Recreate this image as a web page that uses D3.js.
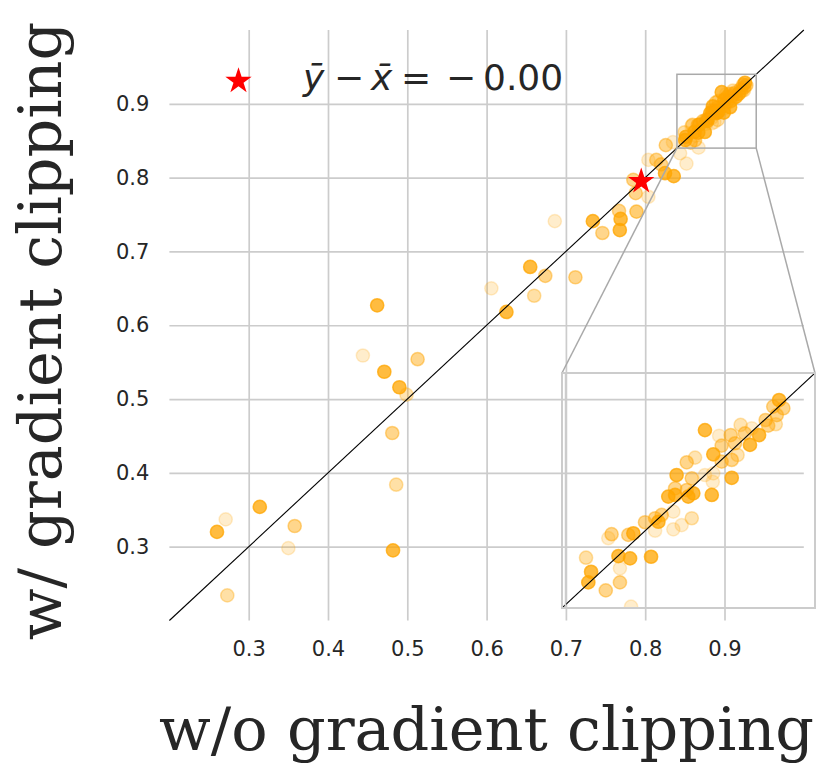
<!DOCTYPE html>
<html>
<head>
<meta charset="utf-8">
<script src="https://cdn.jsdelivr.net/npm/d3@7"></script>
<style>
  html, body { margin: 0; padding: 0; background: #fff; }
  svg { display: block; }
</style>
</head>
<body>
<svg id="chart" width="830" height="776"></svg>
<script>
// ---- data ----
// x: without gradient clipping, y: with gradient clipping, a: point opacity
const xValues = [
  0.444, 0.513, 0.471, 0.490, 0.499, 0.481, 0.486, 0.314, 0.271, 0.260,
  0.358, 0.350, 0.482, 0.273, 0.462, 0.625, 0.606, 0.660, 0.655, 0.674,
  0.712, 0.686, 0.734, 0.746, 0.767, 0.769, 0.768, 0.789, 0.788, 0.785,
  0.804, 0.804, 0.814, 0.820, 0.826, 0.835, 0.844, 0.852, 0.825, 0.836,
  0.9258, 0.9275, 0.9235, 0.9249, 0.9205, 0.9245, 0.9215, 0.9179, 0.9150, 0.9106,
  0.9123, 0.9143, 0.9067, 0.9084, 0.9094, 0.9071, 0.9021, 0.9031, 0.8965, 0.8998,
  0.9031, 0.8926, 0.8893, 0.9071, 0.8998, 0.8965, 0.8996, 0.8992, 0.8913, 0.8853,
  0.8847, 0.8820, 0.8847, 0.8893, 0.8919, 0.8899, 0.8840, 0.8913, 0.8873, 0.8840,
  0.8794, 0.8768, 0.8781, 0.8728, 0.8768, 0.8682, 0.8662, 0.8596, 0.8583, 0.8623,
  0.8669, 0.8752, 0.8495, 0.8515, 0.8504, 0.8629, 0.8629, 0.8573, 0.8673
];
const yValues = [
  0.559, 0.554, 0.537, 0.516, 0.506, 0.454, 0.384, 0.354, 0.337, 0.320,
  0.328, 0.298, 0.295, 0.234, 0.627, 0.618, 0.650, 0.640, 0.679, 0.667,
  0.665, 0.741, 0.741, 0.725, 0.755, 0.744, 0.729, 0.754, 0.779, 0.797,
  0.774, 0.824, 0.824, 0.818, 0.844, 0.848, 0.833, 0.819, 0.806, 0.802,
  0.9285, 0.9250, 0.9257, 0.9221, 0.9200, 0.9182, 0.9176, 0.9136, 0.9165, 0.9179,
  0.9143, 0.9094, 0.9136, 0.9101, 0.9051, 0.9030, 0.9133, 0.9091, 0.9157, 0.9054,
  0.9023, 0.9040, 0.9020, 0.8954, 0.8973, 0.8966, 0.8937, 0.8881, 0.8952, 0.8966,
  0.8909, 0.8874, 0.8881, 0.8902, 0.8888, 0.8874, 0.8810, 0.8782, 0.8753, 0.8735,
  0.8796, 0.8782, 0.8767, 0.8765, 0.8729, 0.8718, 0.8711, 0.8714, 0.8697, 0.8621,
  0.8611, 0.8618, 0.8614, 0.8554, 0.8509, 0.8569, 0.8509, 0.8475, 0.8406
];
const alphaValues = [
  0.2, 0.45, 0.75, 0.75, 0.3, 0.45, 0.35, 0.75, 0.2, 0.75,
  0.45, 0.2, 0.75, 0.35, 0.75, 0.75, 0.2, 0.35, 0.75, 0.45,
  0.45, 0.2, 0.75, 0.45, 0.45, 0.75, 0.75, 0.55, 0.45, 0.45,
  0.2, 0.2, 0.45, 0.45, 0.45, 0.2, 0.2, 0.2, 0.75, 0.75,
  0.75, 0.45, 0.45, 0.45, 0.45, 0.3, 0.45, 0.75, 0.2, 0.3,
  0.45, 0.75, 0.45, 0.45, 0.3, 0.45, 0.2, 0.45, 0.75, 0.75,
  0.45, 0.3, 0.45, 0.75, 0.2, 0.2, 0.2, 0.75, 0.45, 0.75,
  0.45, 0.75, 0.75, 0.45, 0.75, 0.75, 0.2, 0.3, 0.2, 0.2,
  0.45, 0.45, 0.75, 0.45, 0.2, 0.75, 0.45, 0.45, 0.2, 0.75,
  0.75, 0.75, 0.35, 0.75, 0.75, 0.2, 0.45, 0.45, 0.2
];
const meanPoint = [0.795, 0.795];           // (x̄, ȳ)
const meanDiffLabel = "\u22120.00";          // ȳ − x̄
const axisDomain = [0.2, 1.0];
const insetDomain = [0.84, 0.94];
const tickValues = [0.3, 0.4, 0.5, 0.6, 0.7, 0.8, 0.9];
const tickLabels = ["0.3", "0.4", "0.5", "0.6", "0.7", "0.8", "0.9"];
const xLabel = "w/o gradient clipping";
const yLabel = "w/ gradient clipping";

const points = xValues.map((x, i) => ({ x, y: yValues[i], a: alphaValues[i] }));

// ---- layout ----
const svg = d3.select("#chart");
const M = { left: 169.4, right: 803.8, top: 30, bottom: 620.5 };
const I = { left: 562, right: 815, top: 373, bottom: 608 };
const x = d3.scaleLinear().domain(axisDomain).range([M.left, M.right]);
const y = d3.scaleLinear().domain(axisDomain).range([M.bottom, M.top]);
const xi = d3.scaleLinear().domain(insetDomain).range([I.left, I.right]);
const yi = d3.scaleLinear().domain(insetDomain).range([I.bottom, I.top]);

const gridColor = "#cccccc";
const textColor = "#262626";
const ptColor = "#FFA500";
const R = 6.6;

// grid
const gx = svg.append("g")
  .attr("transform", `translate(0,${M.bottom})`)
  .call(d3.axisBottom(x).tickValues(tickValues).tickSize(-(M.bottom - M.top)).tickFormat(""));
gx.select(".domain").remove();
gx.selectAll(".tick line").attr("stroke", gridColor).attr("stroke-width", 1.7);
const gy = svg.append("g")
  .attr("transform", `translate(${M.left},0)`)
  .call(d3.axisLeft(y).tickValues(tickValues).tickSize(-(M.right - M.left)).tickFormat(""));
gy.select(".domain").remove();
gy.selectAll(".tick line").attr("stroke", gridColor).attr("stroke-width", 1.7);

// tick labels
const lx = svg.append("g")
  .attr("transform", `translate(0,${M.bottom})`)
  .call(d3.axisBottom(x).tickValues(tickValues).tickSize(0).tickPadding(21)
    .tickFormat((d, i) => tickLabels[i]));
lx.select(".domain").remove();
lx.selectAll("text").attr("font-family", "DejaVu Sans").attr("font-size", 21).attr("fill", textColor);
const ly = svg.append("g")
  .attr("transform", `translate(${M.left},0)`)
  .call(d3.axisLeft(y).tickValues(tickValues).tickSize(0).tickPadding(20)
    .tickFormat((d, i) => tickLabels[i]));
ly.select(".domain").remove();
ly.selectAll("text").attr("font-family", "DejaVu Sans").attr("font-size", 21).attr("fill", textColor);

// main scatter
function drawPoints(g, sx, sy) {
  g.selectAll("circle").data(points).join("circle")
    .attr("cx", d => sx(d.x)).attr("cy", d => sy(d.y)).attr("r", R)
    .attr("fill", ptColor).attr("fill-opacity", d => d.a)
    .attr("stroke", ptColor).attr("stroke-opacity", d => d.a).attr("stroke-width", 1.5);
}
drawPoints(svg.append("g"), x, y);

// identity line
svg.append("line")
  .attr("x1", x(axisDomain[0])).attr("y1", y(axisDomain[0]))
  .attr("x2", x(axisDomain[1])).attr("y2", y(axisDomain[1]))
  .attr("stroke", "#000").attr("stroke-width", 1.1);

// mean star
const star = d3.symbol().type(d3.symbolStar).size(215);
svg.append("path").attr("d", star())
  .attr("transform", `translate(${x(meanPoint[0])},${y(meanPoint[1])})`)
  .attr("fill", "#ff0000");

// inset indicator + connectors
const boxColor = "#a9a9a9";
svg.append("rect")
  .attr("x", x(insetDomain[0])).attr("y", y(insetDomain[1]))
  .attr("width", x(insetDomain[1]) - x(insetDomain[0]))
  .attr("height", y(insetDomain[0]) - y(insetDomain[1]))
  .attr("fill", "none").attr("stroke", boxColor).attr("stroke-width", 1.5);
svg.append("line")
  .attr("x1", x(insetDomain[0])).attr("y1", y(insetDomain[0]))
  .attr("x2", I.left).attr("y2", I.top)
  .attr("stroke", boxColor).attr("stroke-width", 1.5);
svg.append("line")
  .attr("x1", x(insetDomain[1])).attr("y1", y(insetDomain[0]))
  .attr("x2", I.right).attr("y2", I.top)
  .attr("stroke", boxColor).attr("stroke-width", 1.5);

// inset axes
svg.append("clipPath").attr("id", "insetClip").append("rect")
  .attr("x", I.left).attr("y", I.top).attr("width", I.right - I.left).attr("height", I.bottom - I.top);
const ig = svg.append("g").attr("clip-path", "url(#insetClip)");
drawPoints(ig, xi, yi);
ig.append("line")
  .attr("x1", xi(insetDomain[0])).attr("y1", yi(insetDomain[0]))
  .attr("x2", xi(insetDomain[1])).attr("y2", yi(insetDomain[1]))
  .attr("stroke", "#000").attr("stroke-width", 1.1);
svg.append("rect")
  .attr("x", I.left).attr("y", I.top).attr("width", I.right - I.left).attr("height", I.bottom - I.top)
  .attr("fill", "none").attr("stroke", gridColor).attr("stroke-width", 2);
svg.append("line")
  .attr("x1", I.left + 3.5).attr("y1", I.top).attr("x2", I.left + 3.5).attr("y2", I.bottom)
  .attr("stroke", gridColor).attr("stroke-width", 1.5);

// axis titles
svg.append("text")
  .attr("x", (M.left + M.right) / 2).attr("y", 750)
  .attr("text-anchor", "middle")
  .attr("font-family", "DejaVu Serif").attr("font-size", 60.5).attr("fill", textColor)
  .text(xLabel);
svg.append("text")
  .attr("transform", `translate(61,331) rotate(-90)`)
  .attr("text-anchor", "middle")
  .attr("font-family", "DejaVu Serif").attr("font-size", 60.5).attr("fill", textColor)
  .text(yLabel);

// legend
svg.append("path").attr("d", star()).attr("transform", "translate(238.5,81)").attr("fill", "#ff0000");
const lg = svg.append("text").attr("y", 90)
  .attr("font-family", "DejaVu Sans").attr("font-size", 36).attr("fill", textColor);
lg.append("tspan").attr("x", 303).attr("font-style", "italic").text("\u0233");
lg.append("tspan").attr("x", 334).text("\u2212");
lg.append("tspan").attr("x", 371).attr("font-style", "italic").text("x\u0304");
lg.append("tspan").attr("x", 401).text("=");
lg.append("tspan").attr("x", 446).text("\u2212");
lg.append("tspan").attr("x", 483).text(meanDiffLabel.slice(1));
</script>
</body>
</html>
